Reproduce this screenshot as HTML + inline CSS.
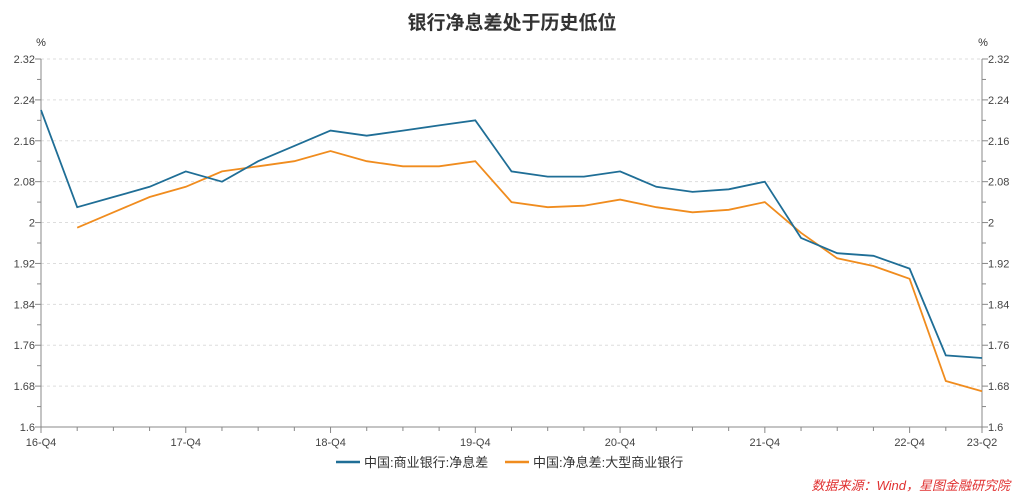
<!DOCTYPE html>
<html><head><meta charset="utf-8"><style>
body{margin:0;background:#fff;width:1024px;height:500px;overflow:hidden}
svg{display:block;font-family:"Liberation Sans","Noto Sans CJK SC",sans-serif}
</style></head><body>
<svg id="s" width="1024" height="500" xmlns="http://www.w3.org/2000/svg">
<text x="512" y="29" text-anchor="middle" font-size="19" font-weight="bold" fill="#333">银行净息差处于历史低位</text>
<text x="41" y="46" text-anchor="middle" font-size="11" fill="#333">%</text>
<text x="983" y="46" text-anchor="middle" font-size="11" fill="#333">%</text>
<g id="g"></g>
<line x1="336" y1="462" x2="360" y2="462" stroke="#1f6e96" stroke-width="2.5"/>
<text x="364" y="467" font-size="13" fill="#333">中国:商业银行:净息差</text>
<line x1="505" y1="462" x2="529" y2="462" stroke="#f08c1e" stroke-width="2.5"/>
<text x="533" y="467" font-size="13" fill="#333">中国:净息差:大型商业银行</text>
<text x="1010" y="490" text-anchor="end" font-size="13" font-style="italic" fill="#e03030">数据来源：Wind，星图金融研究院</text>
</svg>
<script>
var g=document.getElementById('g'),h='';
var X0=41,DX=(982-41)/26,Y=function(v){return 59+(2.32-v)/0.72*368};
for(var i=0;i<=9;i++){var v=2.32-i*0.08,y=Y(v);var lab=(Math.round(v*100)/100).toString();
if(i<9)h+='<line x1="41" x2="982" y1="'+y+'" y2="'+y+'" stroke="#ddd" stroke-dasharray="3,3"/>';
h+='<text x="35" y="'+(y+4)+'" text-anchor="end" font-size="11" fill="#444">'+lab+'</text>';
h+='<text x="988" y="'+(y+4)+'" font-size="11" fill="#444">'+lab+'</text>';
h+='<line x1="35" x2="41" y1="'+y+'" y2="'+y+'" stroke="#888"/><line x1="982" x2="988" y1="'+y+'" y2="'+y+'" stroke="#888"/>';
if(i<9){var y2=Y(v-0.04);h+='<line x1="37" x2="41" y1="'+y2+'" y2="'+y2+'" stroke="#888"/><line x1="982" x2="986" y1="'+y2+'" y2="'+y2+'" stroke="#888"/>';}}
h+='<line x1="41" x2="41" y1="59" y2="427" stroke="#888"/><line x1="982" x2="982" y1="59" y2="427" stroke="#888"/><line x1="41" x2="982" y1="427" y2="427" stroke="#888"/>';
for(var q=0;q<=26;q++){var x=X0+q*DX;h+='<line x1="'+x+'" x2="'+x+'" y1="427" y2="'+(q%4==0||q==26?433:431)+'" stroke="#888"/>';}
var labs=['16-Q4','17-Q4','18-Q4','19-Q4','20-Q4','21-Q4','22-Q4'];
labs.forEach(function(l,k){h+='<text x="'+(X0+k*4*DX)+'" y="446" text-anchor="middle" font-size="11" fill="#444">'+l+'</text>';});
h+='<text x="982" y="446" text-anchor="middle" font-size="11" fill="#444">23-Q2</text>';
var b=[2.22,2.03,2.05,2.07,2.10,2.08,2.12,2.15,2.18,2.17,2.18,2.19,2.20,2.10,2.09,2.09,2.10,2.07,2.06,2.065,2.08,1.97,1.94,1.935,1.91,1.74,1.735];
var o=[null,1.99,2.02,2.05,2.07,2.10,2.11,2.12,2.14,2.12,2.11,2.11,2.12,2.04,2.03,2.033,2.045,2.03,2.02,2.025,2.04,1.98,1.93,1.915,1.89,1.69,1.67];
function pl(a,c){var p=[];a.forEach(function(v,k){if(v!=null)p.push((X0+k*DX).toFixed(1)+','+Y(v).toFixed(1));});return '<polyline points="'+p.join(' ')+'" fill="none" stroke="'+c+'" stroke-width="1.8"/>';}
h+=pl(o,'#f08c1e')+pl(b,'#1f6e96');
g.innerHTML=h;
</script>
</body></html>
